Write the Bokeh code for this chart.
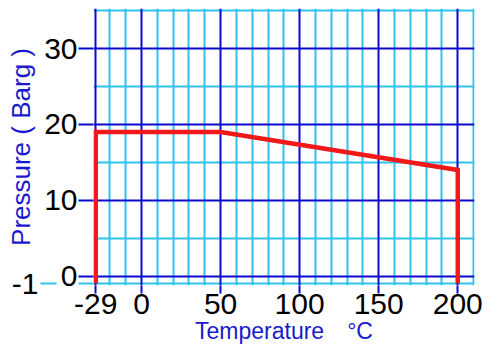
from bokeh.plotting import figure
from bokeh.models import LinearAxis, Grid, FixedTicker, Range1d
from bokeh.embed import file_html
from bokeh.resources import INLINE

# Data: pressure–temperature rating curve
temps = [-29, -29, 50, 200, 200]
pressures = [-1, 19, 19, 14, -1]

x_major = [-29, 0, 50, 100, 150, 200]
x_minor = [-20, -10, 10, 20, 30, 40, 60, 70, 80, 90, 110, 120, 130, 140,
           160, 170, 180, 190, 210]
y_major = [0, 10, 20, 30]
y_minor = [-1, 5, 15, 25, 35]
y_extra = [-1]

DARK = "#0A0ACF"
CYAN = "#2FC3EC"
RED = "#F01818"
TBLUE = "#1A1ACC"
FONT = "Liberation Sans"

p = figure(width=500, height=356,
           x_range=Range1d(-30.4, 210.6), y_range=Range1d(-1.25, 35.3),
           x_axis_type=None, y_axis_type=None,
           output_backend="svg", toolbar_location=None,
           min_border_left=93, min_border_right=26,
           min_border_top=8, min_border_bottom=71,
           outline_line_color=None, background_fill_color="white",
           border_fill_color="white")

# grids: minors first, majors on top
gx_min = Grid(dimension=0, ticker=FixedTicker(ticks=x_minor),
              grid_line_color=CYAN, grid_line_width=2)
gy_min = Grid(dimension=1, ticker=FixedTicker(ticks=y_minor),
              grid_line_color=CYAN, grid_line_width=2)
gx_maj = Grid(dimension=0, ticker=FixedTicker(ticks=x_major),
              grid_line_color=DARK, grid_line_width=2)
gy_maj = Grid(dimension=1, ticker=FixedTicker(ticks=y_major),
              grid_line_color=DARK, grid_line_width=2)
for g in (gx_min, gy_min, gx_maj, gy_maj):
    p.add_layout(g)

# x axis
xa = LinearAxis(ticker=FixedTicker(ticks=x_major),
                axis_label="Temperature\u3000°C")
xa.major_label_overrides = {-29: "-29"}
xa.axis_line_color = None
xa.major_tick_line_color = DARK
xa.major_tick_line_width = 2
xa.major_tick_out = 8
xa.major_tick_in = 0
xa.minor_tick_line_color = None
xa.major_label_standoff = 0
xa.major_label_text_font = FONT
xa.major_label_text_font_size = "30px"
xa.major_label_text_color = "black"
xa.axis_label_standoff = 1
xa.axis_label_text_font = FONT
xa.axis_label_text_font_size = "23px"
xa.axis_label_text_font_style = "normal"
xa.axis_label_text_color = TBLUE
p.add_layout(xa, "below")

# inner y axis: 0..30
ya = LinearAxis(ticker=FixedTicker(ticks=y_major, minor_ticks=y_extra))
ya.axis_line_color = None
ya.major_tick_line_color = DARK
ya.major_tick_line_width = 2
ya.major_tick_out = 15
ya.major_tick_in = 0
ya.minor_tick_line_color = CYAN
ya.minor_tick_line_width = 2
ya.minor_tick_out = 15
ya.minor_tick_in = 0
ya.major_label_standoff = 1
ya.major_label_text_font = FONT
ya.major_label_text_font_size = "30px"
ya.major_label_text_color = "black"
p.add_layout(ya, "left")

# outer y axis: -1 label and the axis title
yb = LinearAxis(ticker=FixedTicker(ticks=y_extra),
                axis_label="Pressure ( Barg )")
yb.major_label_overrides = {-1: "-1"}
yb.axis_line_color = None
yb.major_tick_line_color = CYAN
yb.major_tick_line_width = 2
yb.major_tick_out = 1
yb.major_tick_in = 15
yb.minor_tick_line_color = None
yb.major_label_standoff = 2
yb.major_label_text_font = FONT
yb.major_label_text_font_size = "30px"
yb.major_label_text_color = "black"
yb.axis_label_standoff = -27
yb.axis_label_text_font = FONT
yb.axis_label_text_font_size = "26px"
yb.axis_label_text_font_style = "normal"
yb.axis_label_text_color = TBLUE
p.add_layout(yb, "left")

p.line(x=temps, y=pressures, line_color=RED, line_width=4.5,
       line_join="miter")

open("out.html", "w").write(file_html(p, INLINE))
